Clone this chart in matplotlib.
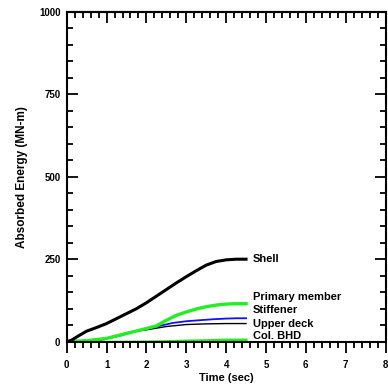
import matplotlib
matplotlib.use("Agg")
import matplotlib.pyplot as plt
from matplotlib.ticker import MultipleLocator

plt.rcParams['font.family'] = ['Liberation Sans', 'DejaVu Sans']
plt.rcParams['font.weight'] = 'bold'

t_shell = [0, 0.125, 0.3, 0.5, 0.75, 1.0, 1.25, 1.5, 1.75, 2.0, 2.25, 2.5, 2.75, 3.0, 3.25, 3.5, 3.75, 4.0, 4.25, 4.5]
e_shell = [0, 5, 18, 32, 43, 55, 70, 85, 100, 118, 138, 158, 178, 197, 215, 232, 243, 248, 250, 250]

t_prim = [0, 0.5, 1.0, 1.5, 2.0, 2.25, 2.5, 2.75, 3.0, 3.25, 3.5, 3.75, 4.0, 4.25, 4.5]
e_prim = [0, 3, 10, 25, 40, 48, 65, 80, 90, 99, 106, 111, 114, 115, 115]

t_stif = [0, 0.5, 0.83, 1.0, 1.33, 1.67, 2.0, 2.33, 2.67, 3.0, 3.33, 3.67, 4.0, 4.25, 4.5]
e_stif = [-2, 0, 5, 9, 18, 30, 38, 48, 57, 62, 65, 68, 70, 71, 71]

t_deck = [0, 0.5, 1.0, 1.25, 1.5, 1.75, 2.0, 2.5, 3.0, 3.5, 4.0, 4.5]
e_deck = [0, 4, 10, 18, 27, 32, 36, 46, 52, 54, 55, 55]

t_col = [0, 1.0, 2.0, 2.5, 3.0, 3.5, 4.0, 4.5]
e_col = [-2, -2, -1, 0, 2, 3, 5, 5]

labels = ["Shell", "Primary member", "Stiffener", "Upper deck", "Col. BHD"]
label_y = [250, 135, 95, 53, 17]

fig = plt.figure(figsize=(3.88, 3.89), dpi=100)
ax = fig.add_axes([0.172, 0.1216, 0.8216, 0.8484])

ax.plot(t_deck, e_deck, color='black', lw=1.0)
ax.plot(t_stif, e_stif, color='#1010ff', lw=1.3)
ax.plot(t_col, e_col, color='#22ee22', lw=2.2)
ax.plot(t_prim, e_prim, color='#22ee22', lw=2.4)
ax.plot(t_shell, e_shell, color='black', lw=2.2)

for lab, y in zip(labels, label_y):
    ax.text(4.67, y, lab, fontsize=8, fontweight='bold', va='center', ha='left')

ax.set_xlim(0, 8)
ax.set_ylim(0, 1000)
ax.xaxis.set_major_locator(MultipleLocator(1))
ax.xaxis.set_minor_locator(MultipleLocator(0.2))
ax.yaxis.set_major_locator(MultipleLocator(250))
ax.yaxis.set_minor_locator(MultipleLocator(50))
ax.tick_params(which='both', direction='in', top=True, right=True, width=1.3)
ax.tick_params(which='major', length=8, labelsize=7)
ax.tick_params(which='minor', length=4)
ax.tick_params(axis='y', which='major', pad=4.5)
# bottom ticks point outward, top ticks inward
ax.tick_params(axis='x', which='both', bottom=True, top=False, direction='out')
ax.tick_params(axis='x', which='major', pad=5.5)
secx = ax.secondary_xaxis('top')
secx.xaxis.set_major_locator(MultipleLocator(1))
secx.xaxis.set_minor_locator(MultipleLocator(0.2))
secx.tick_params(which='both', direction='in', width=1.3, labeltop=False)
secx.tick_params(which='major', length=8)
secx.tick_params(which='minor', length=4)
secx.spines['top'].set_linewidth(1.5)
for lbl in ax.get_xticklabels() + ax.get_yticklabels():
    lbl.set_fontweight('bold')
for s in ax.spines.values():
    s.set_linewidth(1.5)

ax.set_xlabel("Time (sec)", fontsize=8, fontweight='bold', labelpad=2)
ax.set_ylabel("Absorbed Energy (MN-m)", fontsize=8.5, fontweight='bold', labelpad=8)

fig.savefig("out.png", dpi=100)
